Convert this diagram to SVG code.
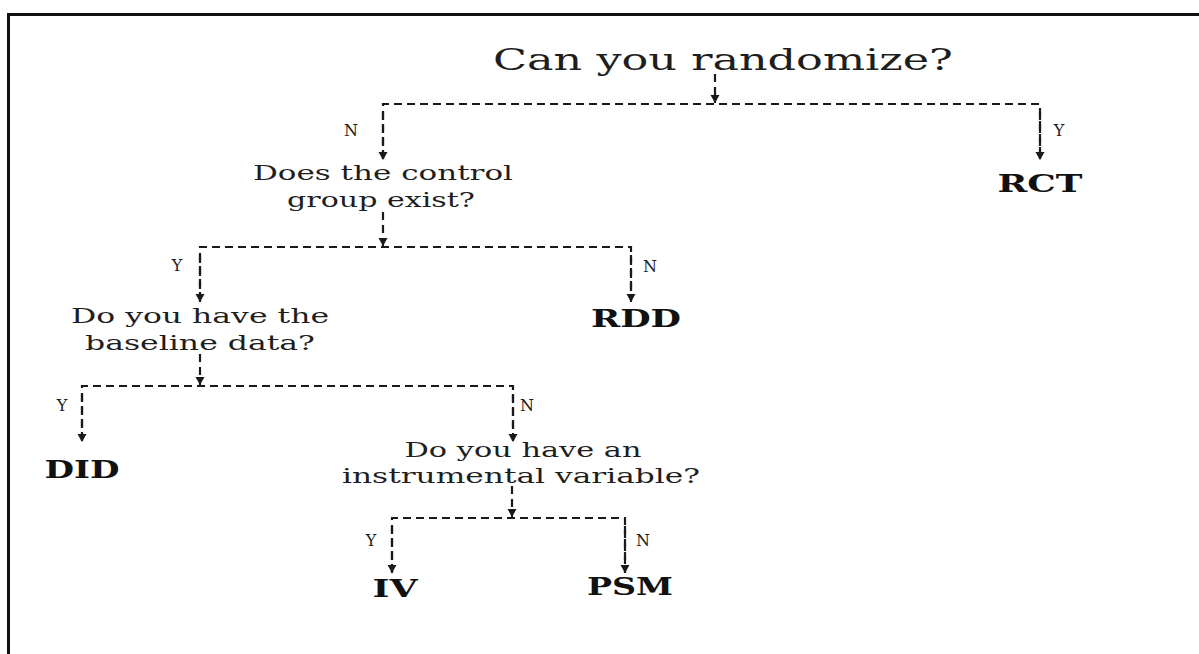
<svg xmlns="http://www.w3.org/2000/svg" width="1199" height="654" viewBox="0 0 1199 654">
<style>
.q{font-family:"DejaVu Serif","Liberation Serif",serif;font-size:20px;fill:#1e1e1e;text-anchor:middle}
.t{font-family:"DejaVu Serif","Liberation Serif",serif;font-size:30px;fill:#1e1e1e;text-anchor:middle}
.r{font-family:"DejaVu Serif","Liberation Serif",serif;font-size:25px;font-weight:bold;fill:#111;text-anchor:middle}
.l{font-family:"DejaVu Serif","Liberation Serif",serif;font-size:16px;fill:#1e1e1e;text-anchor:middle}
.c{fill:none;stroke:#1a1a1a;stroke-width:2.2;stroke-dasharray:8 5}
.a{fill:none;stroke:#1a1a1a;stroke-width:2.2;stroke-dasharray:8 5;marker-end:url(#ah)}
</style>
<defs>
<marker id="ah" markerUnits="userSpaceOnUse" markerWidth="10" markerHeight="10" refX="9" refY="5" orient="auto" viewBox="0 0 10 10">
<path d="M1,0.5 L9,5 L1,9.5 Z" fill="#1a1a1a"/>
</marker>
</defs>
<rect width="1199" height="654" fill="#fff"/>
<path d="M8.5,654 V14.5 H1199" fill="none" stroke="#111" stroke-width="3"/>

<g id="q1"><text class="t" x="723" y="70" textLength="460" lengthAdjust="spacingAndGlyphs">Can you randomize?</text></g>
<g id="rct"><text class="r" x="1040" y="192" textLength="85" lengthAdjust="spacingAndGlyphs">RCT</text></g>
<g id="q2">
<text class="q" x="383" y="180" textLength="260" lengthAdjust="spacingAndGlyphs">Does the control</text>
<text class="q" x="381" y="207" textLength="188" lengthAdjust="spacingAndGlyphs">group exist?</text>
</g>
<g id="rdd"><text class="r" x="636" y="327" textLength="90" lengthAdjust="spacingAndGlyphs">RDD</text></g>
<g id="q3">
<text class="q" x="200" y="323" textLength="258" lengthAdjust="spacingAndGlyphs">Do you have the</text>
<text class="q" x="200" y="350" textLength="230" lengthAdjust="spacingAndGlyphs">baseline data?</text>
</g>
<g id="did"><text class="r" x="82" y="478" textLength="75" lengthAdjust="spacingAndGlyphs">DID</text></g>
<g id="q4">
<text class="q" x="523" y="457" textLength="237" lengthAdjust="spacingAndGlyphs">Do you have an</text>
<text class="q" x="521" y="483" textLength="358" lengthAdjust="spacingAndGlyphs">instrumental variable?</text>
</g>
<g id="iv"><text class="r" x="395" y="597" textLength="45" lengthAdjust="spacingAndGlyphs">IV</text></g>
<g id="psm"><text class="r" x="630" y="595" textLength="86" lengthAdjust="spacingAndGlyphs">PSM</text></g>

<g id="connectors">
<path class="a" d="M715,74 V103"/>
<path class="c" d="M383,158 V104 H1040 V158"/>
<path class="a" d="M383,112 V160"/>
<path class="a" d="M1040,112 V160"/>
<text class="l" x="351" y="136">N</text>
<text class="l" x="1059" y="136">Y</text>

<path class="a" d="M383,212 V246"/>
<path class="c" d="M200,300 V247 H631 V300"/>
<path class="a" d="M200,255 V302"/>
<path class="a" d="M631,255 V302"/>
<text class="l" x="177" y="271">Y</text>
<text class="l" x="650" y="272">N</text>

<path class="a" d="M200,354 V385"/>
<path class="c" d="M82,440 V386 H513 V440"/>
<path class="a" d="M82,394 V442"/>
<path class="a" d="M513,394 V442"/>
<text class="l" x="62" y="411">Y</text>
<text class="l" x="527" y="411">N</text>

<path class="a" d="M512,486 V517"/>
<path class="c" d="M392,572 V518 H625 V572"/>
<path class="a" d="M392,526 V573"/>
<path class="a" d="M625,526 V573"/>
<text class="l" x="371" y="546">Y</text>
<text class="l" x="643" y="546">N</text>
</g>
</svg>
